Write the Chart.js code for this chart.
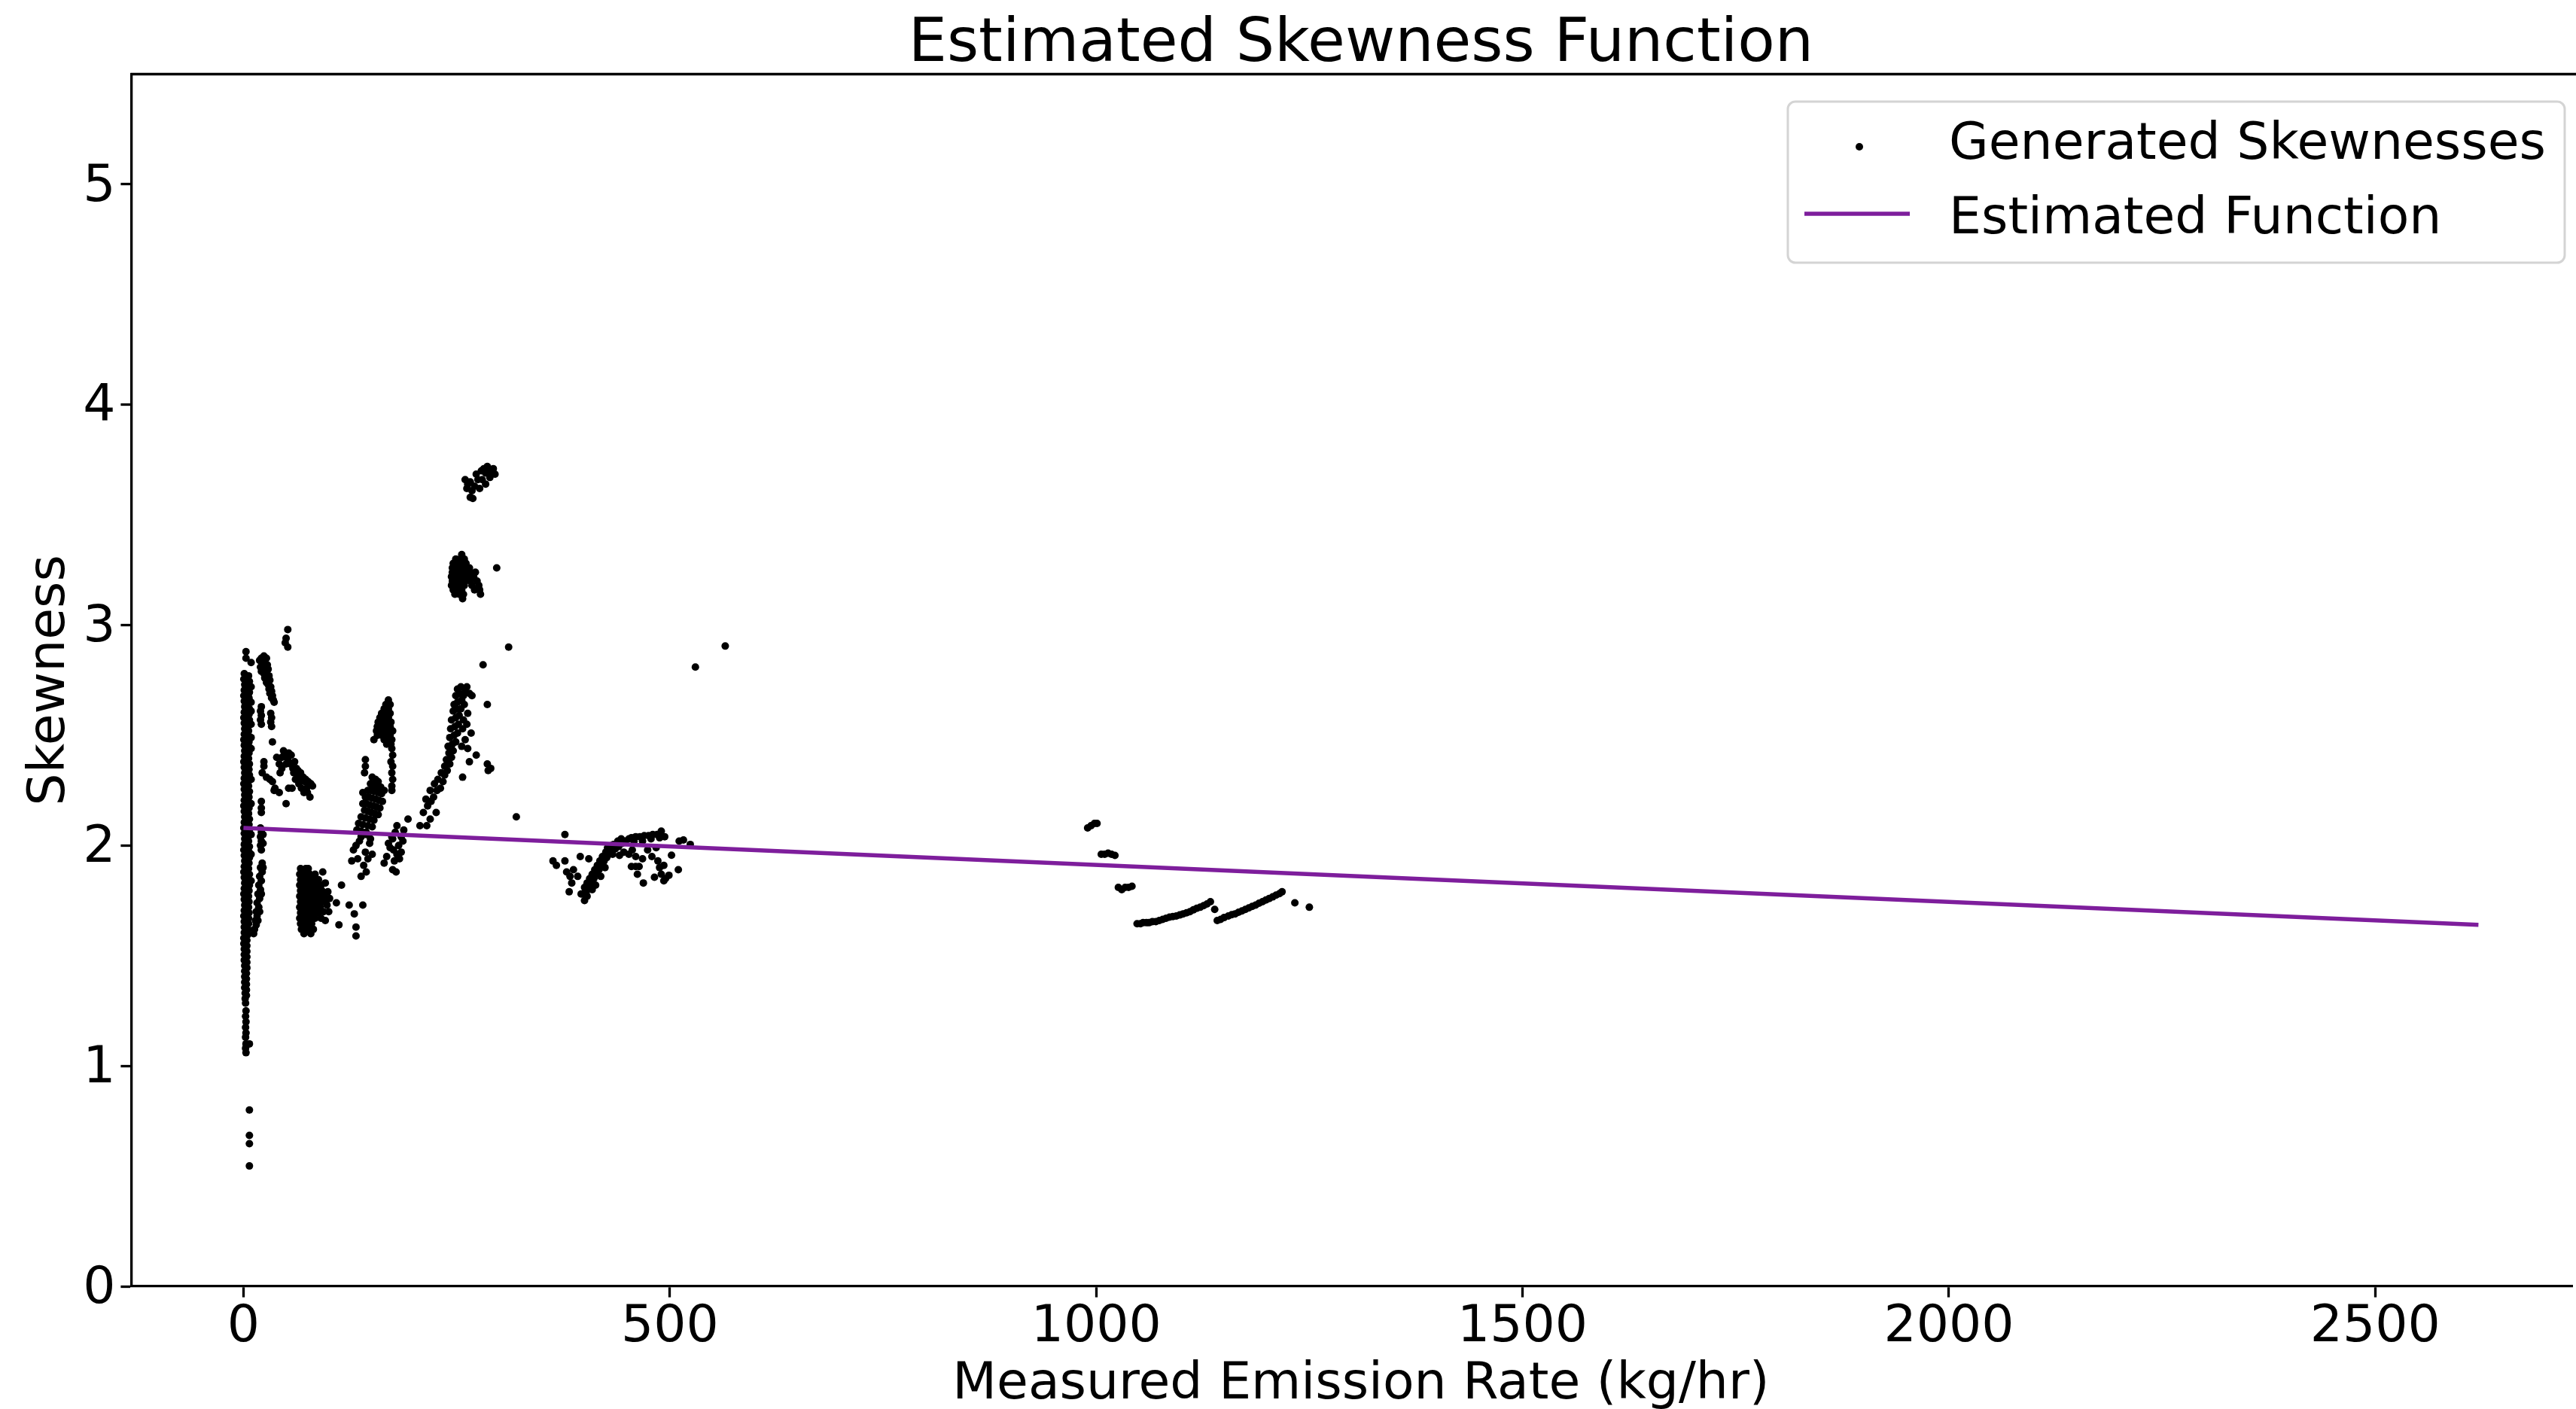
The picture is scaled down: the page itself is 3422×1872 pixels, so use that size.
<!DOCTYPE html>
<html>
<head>
<meta charset="utf-8">
<title>Estimated Skewness Function</title>
<script src="https://cdn.jsdelivr.net/npm/chart.js@4.4.1/dist/chart.umd.min.js"></script>
<style>
  html, body { margin: 0; padding: 0; background: #fff; }
  canvas { display: block; }
</style>
</head>
<body>
<canvas id="skewChart" width="3422" height="1872"></canvas>
<script>
// tick labels
const xTicks = [0, 500, 1000, 1500, 2000, 2500];
const yTicks = [0, 1, 2, 3, 4, 5];

// estimated function (two ends of the straight fit)
const fitX = [0, 2621];
const fitY = [2.08, 1.64];

// generated skewnesses, read cluster by cluster [rate, skewness]
const barUpper = [
  [1,2.78],[6,2.77],[0.5,2.755],[7,2.745],[1.5,2.73],[6.5,2.72],[1,2.705],[7,2.695],[0.5,2.68],[6.5,2.67],
  [1,2.655],[6,2.645],[1.5,2.63],[7,2.62],[1,2.605],[6.5,2.595],[0.5,2.58],[7,2.57],[1,2.555],[6.5,2.545],
  [1.5,2.53],[6,2.52],[1,2.505],[7,2.495],[0.5,2.48],[6.5,2.47],[1,2.455],[7,2.445],[1.5,2.43],[6.5,2.42],
  [1,2.405],[6,2.395],[0.5,2.38],[7,2.37],[1,2.355],[6.5,2.345],[1.5,2.33],[7,2.32],[1,2.305],[6.5,2.295],
  [0.5,2.28],[6,2.27],[1,2.255],[7,2.245],[1.5,2.23],[6.5,2.22],[1,2.205],[7,2.195],[0.5,2.18],[6.5,2.17],
  [1,2.155],[6,2.145],[1.5,2.13],[7,2.12],[1,2.105],[6.5,2.095],[0.5,2.08],[7,2.07],[1,2.055],[6.5,2.045],
  [1.5,2.03],[6,2.02],[1,2.005],[7,1.995],[0.5,1.98],[6.5,1.97],[1,1.955],[7,1.945],[1.5,1.93],[6.5,1.92],
  [1,1.905],[6,1.895],[0.5,1.88],[7,1.87],[1,1.855],[6.5,1.845],[1.5,1.83],[7,1.82],[1,1.805],[6.5,1.795],
  [0.5,1.78],[6,1.77],[1,1.755],[6.5,1.745],[1.5,1.73],[6,1.72],[1,1.705],[6.5,1.695],[0.5,1.68],[6,1.67],
  [1,1.655],[6,1.645],[1,1.63],[5.5,1.62],[1,1.605],[5,1.595],
  [9,2.72],[9,2.65],[9,2.61],[9,2.55],[9,2.49],[9,2.44],[9,2.30],[9,2.19],[9,2.05],[9,1.96],[9,1.84]
];
const barMiddle = [
  [3.5,2.76],[4,2.73],[3,2.70],[4,2.67],[3.5,2.64],[4,2.61],[3,2.58],[4,2.55],[3.5,2.52],[4,2.49],
  [3,2.46],[4,2.43],[3.5,2.40],[4,2.37],[3,2.34],[4,2.31],[3.5,2.28],[4,2.25],[3,2.22],[4,2.19],
  [3.5,2.16],[4,2.13],[3,2.10],[4,2.07],[3.5,2.04],[4,2.01],[3,1.98],[4,1.95],[3.5,1.92],[4,1.89],
  [3,1.86],[4,1.83],[3.5,1.80],[4,1.77],[3,1.74],[4,1.71],[3.5,1.68],[3,1.65],[3,1.62]
];
const barLower = [
  [0.5,1.58],[4,1.57],[0.5,1.555],[4,1.545],[1,1.53],[4,1.52],[1,1.505],[4,1.495],[1,1.48],[4,1.47],
  [1.5,1.455],[4,1.445],[1.5,1.43],[3.5,1.42],[1.5,1.405],[3.5,1.395],[1.5,1.38],[3.5,1.37],[1.5,1.355],
  [3.5,1.345],[2,1.33],[3.5,1.32],[2,1.305],
  [2.5,1.285],[3,1.25],[2.5,1.225],[3,1.20],[2.5,1.175],[3,1.15],[2.5,1.13],[3,1.10],[2.5,1.08],[3,1.06],
  [7,1.10],[7,0.80],[7,0.685],[7,0.647],[7,0.546],
  [3,2.88],[3,2.85],[9,2.83]
];
const spike25 = [
  [21,2.85],[24,2.86],[27,2.85],[19,2.84],[22,2.83],[25,2.83],[28,2.82],[20,2.81],[23,2.81],[26,2.80],
  [29,2.80],[21,2.79],[24,2.78],[27,2.78],[30,2.77],[25,2.76],[28,2.75],[31,2.75],[27,2.74],[29,2.73],
  [32,2.72],[30,2.71],[33,2.70],[31,2.69],[34,2.68],[33,2.67],[35,2.66],[36,2.65],
  [21,2.63],[20,2.61],[21,2.59],[20,2.57],[21,2.55],[32,2.60],[33,2.58],[32,2.56],[33,2.54],[34,2.47]
];
const band50 = [
  [24,2.38],[24,2.36],[22,2.33],[27,2.31],[31,2.30],[34,2.29],[37,2.26],[42,2.24],[36,2.25],[39,2.40],
  [42,2.37],[45,2.35],[43,2.33],[47,2.43],[56,2.41],[52,2.39],[50,2.37],[55,2.37],[58,2.35],[59,2.33],
  [63,2.32],[66,2.31],[69,2.30],[72,2.29],[77,2.28],[81,2.27],[75,2.24],[78,2.22],[53,2.26],[57,2.26],
  [50,2.19],[68,2.26],[71,2.24],[61,2.30],[65,2.28],[74,2.26],[48,2.41],[53,2.42],[60,2.38],[62,2.35],
  [64,2.34],[67,2.33],[70,2.31],[73,2.30],[76,2.29],[79,2.28],[45,2.40],[51,2.40],
  [21,2.20],[21,2.17],[21,2.15],[52,2.98],[50,2.94],[49,2.92],[52,2.90]
];
const tail20 = [
  [20,2.08],[21,2.06],[20,2.04],[21,2.02],[20,2.00],[21,1.98],[22,1.92],[20,1.90],[22,1.88],[19,1.86],
  [21,1.84],[18,1.82],[20,1.80],[17,1.78],[19,1.76],[16,1.74],[18,1.72],[15,1.70],[16,1.68],[14,1.66],
  [15,1.64],[13,1.62],[12,1.60],[23,2.05],[23,2.01],[23,1.90],[21,1.78],[19,1.70],[17,1.66]
];
const blob80 = [
  [67,1.895],[73,1.895],[76,1.895],
  [66,1.87],[70,1.87],[74,1.87],[78,1.87],[84,1.87],
  [67,1.845],[71,1.845],[75,1.845],[79,1.845],[83,1.845],[88,1.845],
  [66,1.82],[70,1.82],[74,1.82],[78,1.82],[82,1.82],[86,1.82],[91,1.82],
  [67,1.795],[71,1.795],[75,1.795],[79,1.795],[83,1.795],[87,1.795],[92,1.795],
  [66,1.77],[70,1.77],[74,1.77],[78,1.77],[82,1.77],[86,1.77],[90,1.77],[95,1.77],
  [67,1.745],[71,1.745],[75,1.745],[79,1.745],[83,1.745],[88,1.745],[93,1.745],
  [66,1.72],[70,1.72],[74,1.72],[78,1.72],[82,1.72],[86,1.72],[90,1.72],
  [67,1.695],[71,1.695],[75,1.695],[79,1.695],[83,1.695],[88,1.695],
  [66,1.67],[70,1.67],[74,1.67],[78,1.67],[84,1.67],[91,1.67],
  [67,1.645],[71,1.645],[75,1.645],[80,1.645],
  [68,1.62],[72,1.62],[76,1.62],[82,1.62],[71,1.60],[79,1.60],
  [93,1.88],[98,1.73],[96,1.66],[100,1.70],[99,1.79],[101,1.76],[96,1.83],[94,1.70],[97,1.75],
  [115,1.82],[109,1.74],[124,1.73],[130,1.69],[140,1.73],[112,1.64],[132,1.63],[132,1.59]
];
const blob150 = [
  [151,2.31],[155,2.30],[158,2.29],[149,2.28],[153,2.275],[157,2.27],[161,2.265],[146,2.25],[150,2.25],
  [154,2.245],[158,2.24],[162,2.235],[143,2.22],[147,2.22],[151,2.215],[155,2.21],[159,2.205],[163,2.20],
  [140,2.19],[144,2.19],[148,2.185],[152,2.18],[156,2.175],[160,2.17],[142,2.16],[146,2.155],[150,2.15],
  [154,2.145],[158,2.14],[138,2.13],[143,2.125],[148,2.12],[153,2.115],[135,2.10],[140,2.095],[146,2.09],
  [151,2.085],[133,2.07],[138,2.065],[144,2.06],[140,2.24],[165,2.25],
  [138,2.04],[144,2.05],[148,2.01],[132,2.00],[143,1.97],[129,1.98],[127,1.93],[134,1.94],[146,1.94],
  [141,1.91],[144,1.88],[138,1.86],[149,2.03],[136,2.02],[151,1.96]
];
const blob180 = [
  [180,2.09],[193,2.12],[188,2.07],[174,2.04],[175,2.03],[185,2.04],[172,1.99],[182,2.00],[185,1.97],
  [177,1.93],[165,1.92],[175,1.89],[179,1.88],[180,1.96],[170,2.01],[178,2.06],[183,1.94],[187,2.02],
  [176,1.98],[168,1.95]
];
const spike170 = [
  [170,2.66],[167,2.64],[172,2.64],[165,2.62],[170,2.62],[162,2.60],[167,2.60],[172,2.60],
  [160,2.58],[165,2.58],[170,2.58],[158,2.56],[163,2.56],[168,2.56],[173,2.56],
  [157,2.54],[162,2.54],[167,2.54],[172,2.54],[156,2.52],[161,2.52],[166,2.52],[171,2.52],[175,2.52],
  [157,2.50],[162,2.50],[167,2.50],[172,2.50],[153,2.48],[165,2.48],[170,2.48],[174,2.48],
  [168,2.46],[173,2.46],[174,2.44],[175,2.41],[173,2.38],[175,2.36],[174,2.33],[175,2.30],[174,2.27],[174,2.25],
  [143,2.39],[143,2.36],[142,2.33]
];
const streak250 = [
  [207,2.09],[215,2.09],[219,2.12],[211,2.15],[226,2.15],[216,2.18],[220,2.20],[214,2.21],[223,2.22],
  [227,2.25],[219,2.25],[224,2.28],[231,2.26],[228,2.30],[234,2.29],[236,2.32],[232,2.33],[239,2.34],
  [236,2.36],[242,2.37],[238,2.39],[244,2.40],[241,2.42],[246,2.43],[240,2.45],[245,2.46],[249,2.47],
  [242,2.49],[247,2.50],[251,2.51],[243,2.53],[248,2.54],[252,2.55],[244,2.57],[249,2.58],[253,2.59],
  [246,2.61],[250,2.62],[255,2.62],[247,2.64],[251,2.65],[256,2.66],[249,2.68],[253,2.69],[258,2.68],
  [251,2.71],[255,2.72],[260,2.70],
  [262,2.72],[265,2.69],[268,2.68],[286,2.64],[259,2.64],[263,2.60],[258,2.57],[262,2.55],[267,2.51],
  [263,2.44],[273,2.41],[265,2.38],[286,2.37],[287,2.34],[257,2.31],[290,2.35],[256,2.45],[260,2.48],
  [257,2.53],[297,3.26],[311,2.90],[281,2.82],[320,2.13]
];
const cluster320 = [
  [256,3.32],[249,3.30],[254,3.30],[259,3.30],[246,3.28],[251,3.28],[256,3.28],[261,3.28],
  [245,3.26],[250,3.26],[255,3.26],[260,3.26],[265,3.26],
  [245,3.24],[250,3.24],[255,3.24],[260,3.24],[266,3.24],[272,3.24],
  [244,3.22],[249,3.22],[254,3.22],[259,3.22],[264,3.22],[270,3.22],
  [245,3.20],[250,3.20],[255,3.20],[260,3.20],[266,3.20],[274,3.20],
  [244,3.18],[249,3.18],[254,3.18],[259,3.18],[268,3.18],[276,3.18],
  [246,3.16],[251,3.16],[256,3.16],[271,3.16],[277,3.16],[248,3.14],[253,3.14],[258,3.14],[278,3.14],[257,3.12]
];
const cluster365 = [
  [260,3.66],[262,3.62],[266,3.58],[269,3.575],[273,3.685],[282,3.71],[284,3.69],[291,3.70],[295,3.685],
  [277,3.62],[284,3.64],[289,3.67],[266,3.65],[271,3.63],[275,3.66],[263,3.64],[286,3.72],[279,3.70],
  [268,3.61],[280,3.66],[293,3.71],[288,3.69]
];
const cluster450 = [
  [363,1.93],[367,1.91],[377,1.93],[377,2.05],[395,1.95],[405,1.94],[379,1.88],[387,1.89],[383,1.86],
  [392,1.86],[385,1.83],[382,1.79],[400,1.75],[396,1.78],[403,1.77],
  [398,1.78],[402,1.79],[400,1.81],[405,1.81],[403,1.83],[408,1.83],[406,1.85],[411,1.85],[409,1.87],
  [414,1.87],[412,1.89],[417,1.89],[420,1.91],[415,1.91],[418,1.93],[423,1.93],[426,1.945],[421,1.95],
  [429,1.96],[425,1.97],[432,1.975],[436,1.985],[430,1.99],[440,1.995],[434,2.005],[444,2.01],[439,2.02],
  [448,2.02],[443,2.03],[452,2.03],[427,1.99],[433,1.96],[413,1.82],[419,1.86],[424,1.90],[409,1.80],
  [455,2.035],[460,2.04],[465,2.04],[470,2.045],[475,2.045],[480,2.05],[485,2.05],[490,2.065],
  [458,2.02],[468,2.02],[478,2.03],[488,2.035],[494,2.04],
  [452,1.96],[460,1.95],[468,1.94],[455,1.905],[460,1.905],[464,1.905],[462,1.87],[469,1.83],[479,1.95],
  [486,1.93],[493,1.91],[488,1.90],[490,1.87],[495,1.85],[499,1.865],[502,1.956],[510,1.89],[493,1.84],
  [482,1.856],[474,1.98],[484,1.99],[456,1.98],[446,1.97],[441,1.955],
  [511,2.02],[516,2.025],[524,2.005],[530,2.81],[565,2.905]
];
const cluster1100 = [
  [990,2.08],[994,2.09],[998,2.10],[1001,2.10],
  [1006,1.96],[1010,1.96],[1014,1.965],[1018,1.96],[1022,1.955],
  [1026,1.81],[1030,1.80],[1034,1.81],[1038,1.81],[1042,1.815],
  [1048,1.645],[1052,1.645],[1055,1.65],[1059,1.65],[1062,1.65],[1066,1.655],[1070,1.655],[1074,1.66],
  [1078,1.665],[1082,1.67],[1086,1.675],[1090,1.678],[1094,1.68],[1098,1.685],[1102,1.69],[1106,1.695],
  [1110,1.70],[1114,1.708],[1118,1.715],[1122,1.72],[1126,1.727],[1130,1.735],[1134,1.745],[1139,1.71],
  [1142,1.66],[1146,1.665],[1150,1.673],[1155,1.68],[1159,1.686],[1163,1.69],[1167,1.697],[1171,1.703],
  [1175,1.71],[1179,1.717],[1183,1.724],[1187,1.73],[1191,1.738],[1195,1.745],[1199,1.753],[1203,1.76],
  [1207,1.767],[1211,1.775],[1215,1.782],[1218,1.79],[1233,1.74],[1250,1.72]
];

const skewPoints = [].concat(barUpper, barMiddle, barLower, spike25, band50, tail20, blob80, blob150,
  blob180, spike170, streak250, cluster320, cluster365, cluster450, cluster1100)
  .map(p => ({ x: p[0], y: p[1] }));
const fitPoints = fitX.map((x, i) => ({ x: x, y: fitY[i] }));

const FONT = 'DejaVu Sans';
const LABEL_SIZE = 68;
const SPINE = 3.3;
const DOT = 5;
const FIT_COLOR = '#7e1e9c';

Chart.defaults.font.family = FONT;
Chart.defaults.color = '#000';

// title and x label centred on the (cropped) axes, top spine and the legend box
const mplExtras = {
  id: 'mplExtras',
  afterDraw(chart) {
    const ctx = chart.ctx;
    const area = chart.chartArea;
    const xs = chart.scales.x;
    const axesMid = (area.left + xs.getPixelForValue(2752)) / 2;
    ctx.save();

    ctx.fillStyle = '#000';
    ctx.textAlign = 'center';
    ctx.textBaseline = 'middle';
    ctx.font = '81px "' + FONT + '"';
    ctx.fillText('Estimated Skewness Function', axesMid, 60);
    ctx.font = LABEL_SIZE + 'px "' + FONT + '"';
    ctx.fillText('Measured Emission Rate (kg/hr)', axesMid, 1840);

    ctx.strokeStyle = '#000';
    ctx.lineWidth = SPINE;
    ctx.beginPath();
    ctx.moveTo(area.left - SPINE / 2, area.top);
    ctx.lineTo(chart.width, area.top);
    ctx.stroke();

    ctx.beginPath();
    ctx.roundRect(2375, 135, 1032, 214, 10);
    ctx.fillStyle = 'rgba(255,255,255,0.8)';
    ctx.fill();
    ctx.strokeStyle = '#d4d4d4';
    ctx.lineWidth = 3;
    ctx.stroke();

    const ds = chart.data.datasets;
    ctx.fillStyle = '#000';
    ctx.beginPath();
    ctx.arc(2470, 195, DOT, 0, Math.PI * 2);
    ctx.fill();

    ctx.strokeStyle = ds[0].borderColor;
    ctx.lineWidth = 5.5;
    ctx.beginPath();
    ctx.moveTo(2397, 284);
    ctx.lineTo(2537, 284);
    ctx.stroke();

    ctx.textAlign = 'left';
    ctx.fillStyle = '#000';
    ctx.fillText(ds[1].label, 2589, 193);
    ctx.fillText(ds[0].label, 2589, 292);
    ctx.restore();
  }
};

new Chart(document.getElementById('skewChart'), {
  type: 'scatter',
  data: {
    datasets: [
      {
        label: 'Estimated Function',
        data: fitPoints,
        showLine: true,
        borderColor: FIT_COLOR,
        borderWidth: 5.5,
        pointRadius: 0,
        order: 0
      },
      {
        label: 'Generated Skewnesses',
        data: skewPoints,
        pointRadius: DOT,
        pointHoverRadius: 0,
        pointBackgroundColor: '#000',
        pointBorderWidth: 0,
        order: 1
      }
    ]
  },
  options: {
    responsive: false,
    devicePixelRatio: 1,
    animation: false,
    events: [],
    layout: { padding: { top: 98.5, left: 0, right: 0, bottom: 0 } },
    plugins: {
      legend: { display: false },
      tooltip: { enabled: false },
      title: { display: false }
    },
    scales: {
      x: {
        type: 'linear',
        min: -131,
        max: 2731,
        afterFit(scale) { scale.height = 163; },
        afterBuildTicks(scale) { scale.ticks = xTicks.map(v => ({ value: v })); },
        border: { display: true, color: '#000', width: SPINE },
        grid: {
          drawOnChartArea: false, drawTicks: true,
          tickLength: 14.6, tickWidth: SPINE, tickColor: '#000'
        },
        ticks: {
          padding: 7,
          maxRotation: 0,
          color: '#000',
          font: { size: LABEL_SIZE, lineHeight: 1 },
          callback: v => String(v)
        },
        title: { display: false }
      },
      y: {
        type: 'linear',
        min: 0,
        max: 5.5,
        afterFit(scale) { scale.width = 175; },
        afterBuildTicks(scale) { scale.ticks = yTicks.map(v => ({ value: v })); },
        border: { display: true, color: '#000', width: SPINE },
        grid: {
          drawOnChartArea: false, drawTicks: true,
          tickLength: 14.6, tickWidth: SPINE, tickColor: '#000'
        },
        ticks: {
          padding: 7,
          labelOffset: 4,
          color: '#000',
          font: { size: LABEL_SIZE, lineHeight: 1 },
          callback: v => String(v)
        },
        title: {
          display: true,
          text: 'Skewness',
          color: '#000',
          font: { size: LABEL_SIZE, lineHeight: 1 },
          padding: { top: 33, bottom: 0 }
        }
      }
    }
  },
  plugins: [mplExtras]
});
</script>
</body>
</html>
